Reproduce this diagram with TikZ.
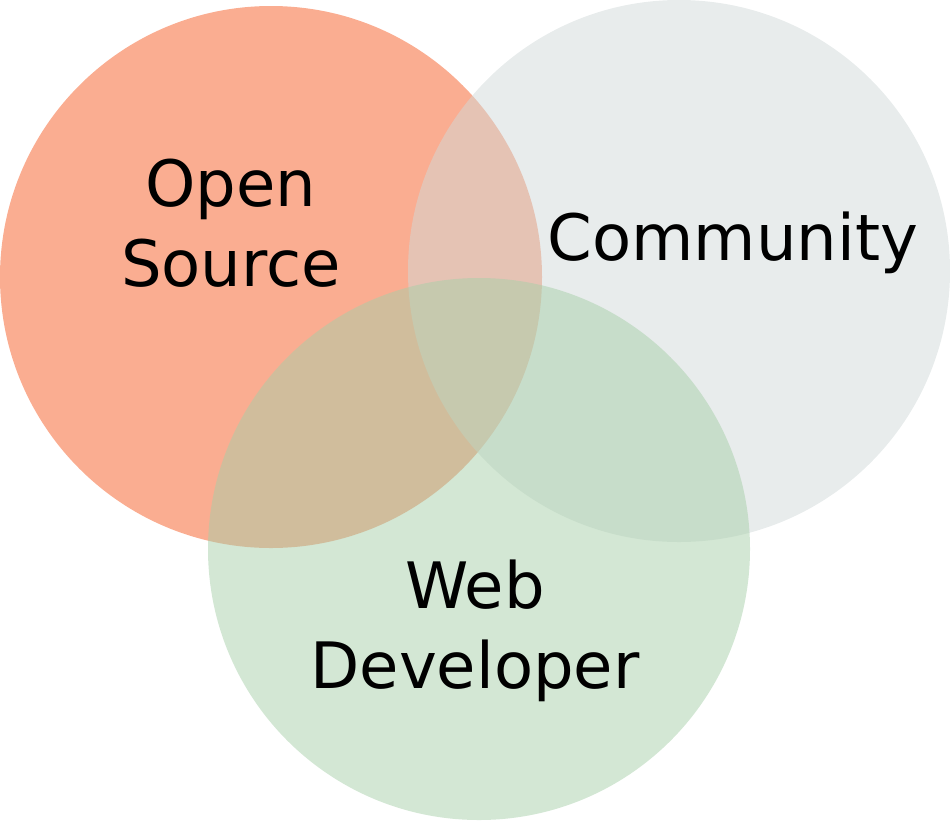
\documentclass[tikz,border=0pt]{standalone}
\usepackage{fontspec}
\setmainfont{DejaVu Sans}
\definecolor{osorange}{RGB}{245,91,35}
\definecolor{comgray}{RGB}{209,217,217}
\definecolor{webgreen}{RGB}{167,207,169}
\begin{document}
\begin{tikzpicture}[x=1pt,y=-1pt,
                        blob/.style={fill opacity=0.5},
                        label/.style={font=\fontsize{64}{80}\selectfont,align=center,anchor=base}]
                        \useasboundingbox (0,0) rectangle (950,820);
                        \coordinate (os) at (271,277);
                        \coordinate (com) at (679,271);
                        \coordinate (web) at (479,549);
                        \fill[blob,osorange] (os) circle (271);
                        \fill[blob,comgray] (com) circle (271);
                        \fill[blob,webgreen] (web) circle (271);
                        \node[label] (oslabel) at (231,286) {Open\\Source};
                        \node[label] (comlabel) at (733,260) {Community};
                        \node[label] (weblabel) at (475,688) {Web\\Developer};
                \end{tikzpicture}
\end{document}
